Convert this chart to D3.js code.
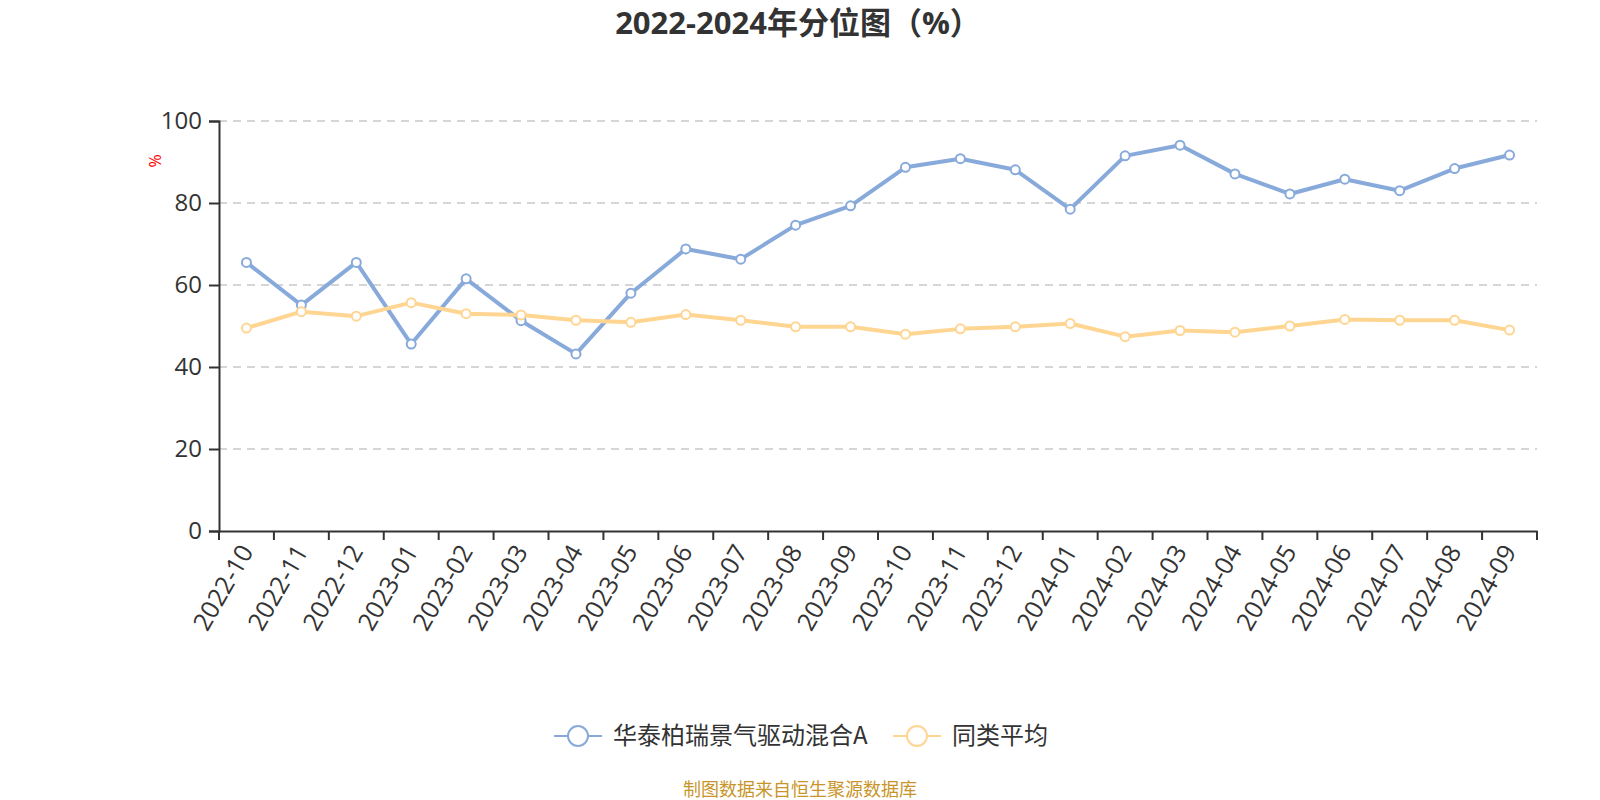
<!DOCTYPE html>
<html>
<head>
<meta http-equiv="content-type" content="text/html; charset=UTF8">
<script src="https://cdn.jsdelivr.net/npm/d3@7/dist/d3.min.js"></script>
<style>
body { margin: 0; background: #fff; }
svg { display: block; font-family: "Open Sans", "Noto Sans CJK SC", sans-serif; }
</style>
</head>
<body>
<svg class="chart" width="1600" height="800"></svg>
<script>
var months = ["2022-10", "2022-11", "2022-12", "2023-01", "2023-02", "2023-03", "2023-04", "2023-05",
	"2023-06", "2023-07", "2023-08", "2023-09", "2023-10", "2023-11", "2023-12", "2024-01",
	"2024-02", "2024-03", "2024-04", "2024-05", "2024-06", "2024-07", "2024-08", "2024-09"];
var fundValues = [65.5, 55.1, 65.5, 45.6, 61.5, 51.3, 43.2, 58.0, 68.8, 66.3, 74.6, 79.3,
	88.7, 90.8, 88.1, 78.5, 91.5, 94.1, 87.1, 82.2, 85.8, 83.0, 88.4, 91.7];
var avgValues = [49.5, 53.5, 52.4, 55.7, 53.0, 52.7, 51.4, 50.9, 52.8, 51.4, 49.8, 49.8,
	48.0, 49.3, 49.8, 50.6, 47.4, 48.9, 48.5, 50.0, 51.6, 51.4, 51.4, 49.0];
var seriesNames = ["华泰柏瑞景气驱动混合A", "同类平均"];
var yTicks = [0, 20, 40, 60, 80, 100];

var colors = ["#88aadb", "#ffd592"];
var series = [fundValues, avgValues];
var fontAxis = "\"Open Sans\", sans-serif";

var margin = {left: 219, right: 63, top: 121, bottom: 269},
	width = 1600 - margin.left - margin.right,
	height = 800 - margin.top - margin.bottom;

var svg = d3.select(".chart");

svg.append("text")
	.attr("x", 798)
	.attr("y", 34)
	.attr("text-anchor", "middle")
	.attr("font-size", 31)
	.attr("font-weight", "bold")
	.attr("fill", "#333")
	.text("2022-2024年分位图（%）");

var g = svg.append("g").attr("transform", "translate(" + margin.left + "," + margin.top + ")");

var x = d3.scaleBand().domain(months).range([0, width]);
var y = d3.scaleLinear().domain([0, 100]).range([height, 0]);

// grid
g.selectAll(".grid")
	.data(yTicks.filter(function(d) { return d > 0; }))
	.enter()
	.append("line")
	.attr("x1", 0)
	.attr("x2", width)
	.attr("y1", function(d) { return y(d); })
	.attr("y2", function(d) { return y(d); })
	.attr("stroke", "#c8c8c8")
	.attr("stroke-width", 1.5)
	.attr("stroke-dasharray", "8,6");

// y axis
var yAxis = g.append("g")
	.call(d3.axisLeft(y).tickValues(yTicks).tickSize(10).tickPadding(7));
yAxis.select(".domain").attr("stroke", "#333").attr("stroke-width", 2);
yAxis.selectAll(".tick line").attr("stroke", "#333").attr("stroke-width", 2);
yAxis.selectAll(".tick text")
	.attr("font-size", 24)
	.attr("fill", "#333")
	.attr("font-family", fontAxis);

// x axis
var xAxis = g.append("g")
	.attr("transform", "translate(0," + height + ")")
	.call(d3.axisBottom(x).tickSize(0).tickFormat(""));
xAxis.select(".domain").attr("stroke", "#333").attr("stroke-width", 2);

var bounds = months.map(function(m) { return x(m); }).concat([width]);
xAxis.selectAll(".bound")
	.data(bounds)
	.enter()
	.append("line")
	.attr("x1", function(d) { return d; })
	.attr("x2", function(d) { return d; })
	.attr("y1", 0)
	.attr("y2", 9)
	.attr("stroke", "#333")
	.attr("stroke-width", 2);

xAxis.selectAll(".lbl")
	.data(months)
	.enter()
	.append("text")
	.attr("transform", function(d) {
		return "translate(" + (x(d) + x.bandwidth() / 2) + ",16) rotate(-60)";
	})
	.attr("text-anchor", "end")
	.attr("dy", "0.35em")
	.attr("font-size", 25)
	.attr("font-family", fontAxis)
	.attr("fill", "#333")
	.text(function(d) { return d; });

// y axis name
svg.append("text")
	.attr("transform", "translate(161,161) rotate(-90)")
	.attr("text-anchor", "middle")
	.attr("font-size", 16)
	.attr("fill", "#ff0000")
	.text("%");

// lines
var line = d3.line()
	.x(function(d, i) { return x(months[i]) + x.bandwidth() / 2; })
	.y(function(d) { return y(d); });

series.forEach(function(vals, k) {
	g.append("path")
		.datum(vals)
		.attr("fill", "none")
		.attr("stroke", colors[k])
		.attr("stroke-width", 4)
		.attr("stroke-linejoin", "round")
		.attr("d", line);
});
series.forEach(function(vals, k) {
	g.selectAll(".pt" + k)
		.data(vals)
		.enter()
		.append("circle")
		.attr("cx", function(d, i) { return x(months[i]) + x.bandwidth() / 2; })
		.attr("cy", function(d) { return y(d); })
		.attr("r", 4.5)
		.attr("fill", "#fff")
		.attr("stroke", colors[k])
		.attr("stroke-width", 2);
});

// legend
var legendX = [554, 893];
var legend = svg.selectAll(".legend")
	.data(seriesNames)
	.enter()
	.append("g")
	.attr("transform", function(d, i) { return "translate(" + legendX[i] + ",736)"; });
legend.append("line")
	.attr("x1", 0).attr("x2", 48)
	.attr("stroke", function(d, i) { return colors[i]; })
	.attr("stroke-width", 2);
legend.append("circle")
	.attr("cx", 24).attr("r", 10)
	.attr("fill", "#fff")
	.attr("stroke", function(d, i) { return colors[i]; })
	.attr("stroke-width", 2);
legend.append("text")
	.attr("x", 59)
	.attr("dy", "0.35em")
	.attr("font-size", 24)
	.attr("fill", "#333")
	.attr("font-family", "\"Noto Sans CJK SC\", sans-serif")
	.text(function(d) { return d; });

svg.append("text")
	.attr("x", 800)
	.attr("y", 796)
	.attr("text-anchor", "middle")
	.attr("font-size", 18)
	.attr("fill", "#c9952a")
	.attr("font-family", "\"Noto Sans CJK SC\", sans-serif")
	.text("制图数据来自恒生聚源数据库");
</script>
</body>
</html>
